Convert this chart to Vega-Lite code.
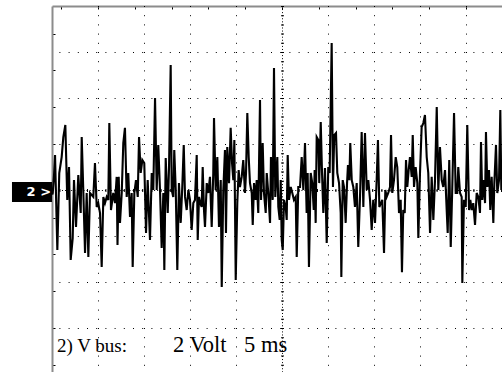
{
  "$schema": "https://vega.github.io/schema/vega-lite/v6.json",
  "width": 450,
  "height": 366,
  "autosize": "none",
  "padding": {"left": 52, "top": 6, "right": 0, "bottom": 0},
  "background": "white",
  "config": {"view": {"stroke": null}},
  "datasets": {
    "gridX": [{"t": 5}, {"t": 10}, {"t": 15}, {"t": 20}, {"t": 30}, {"t": 35}, {"t": 40}, {"t": 45}],
    "centerX": [{"t": 25}],
    "gridY": [{"v": -6}, {"v": -4}, {"v": -2}, {"v": 2}, {"v": 4}, {"v": 6}],
    "centerY": [{"v": 0}],
    "captions": [
      {"label": "2) V bus:", "t": 0.54, "size": "small"},
      {"label": "2 Volt", "t": 13.15, "size": "large"},
      {"label": "5 ms", "t": 20.87, "size": "large"}
    ],
    "wave": [
        {"t":0.02,"v":-0.2},{"t":0.08,"v":-0.13},{"t":0.22,"v":0.65},{"t":0.33,"v":1.52},{"t":0.58,"v":-2.61},{"t":0.79,"v":0.74},{"t":1.05,"v":1.43},{"t":1.23,"v":2.30},{"t":1.45,"v":2.83},{"t":1.66,"v":-0.43},{"t":1.85,"v":1.00},{"t":2.03,"v":-3.04},{"t":2.25,"v":-2.09},{"t":2.39,"v":0.43},{"t":2.61,"v":-1.61},{"t":2.86,"v":0.65},{"t":3.12,"v":-1.00},{"t":3.23,"v":2.30},{"t":3.40,"v":0},{"t":3.59,"v":-2.74},{"t":3.77,"v":-0.13},{"t":3.95,"v":-2.91},{"t":4.13,"v":-0.13},{"t":4.49,"v":-0.30},{"t":4.67,"v":1.17},{"t":4.86,"v":-0.74},{"t":5.03,"v":-0.57},{"t":5.22,"v":-1.00},{"t":5.40,"v":-3.35},{"t":5.58,"v":-0.30},{"t":5.76,"v":-0.57},{"t":5.95,"v":-0.30},{"t":6.12,"v":-0.43},{"t":6.23,"v":2.91},{"t":6.41,"v":-0.87},{"t":6.66,"v":-0.13},{"t":6.85,"v":-0.57},{"t":7.03,"v":0.57},{"t":7.12,"v":-2.39},{"t":7.25,"v":0.57},{"t":7.39,"v":-1.43},{"t":7.58,"v":-0.13},{"t":7.75,"v":2.04},{"t":7.93,"v":2.70},
        {"t":8.12,"v":-0.30},{"t":8.29,"v":0.74},{"t":8.48,"v":-1.17},{"t":8.66,"v":-0.13},{"t":8.77,"v":-3.35},{"t":8.95,"v":-0.13},{"t":9.13,"v":0.43},{"t":9.32,"v":-0.30},{"t":9.46,"v":2.30},{"t":9.64,"v":0.74},{"t":9.82,"v":1.30},{"t":10.03,"v":1.17},{"t":10.22,"v":-1.87},{"t":10.40,"v":0.43},{"t":10.65,"v":-2.17},{"t":10.84,"v":0.74},{"t":11.01,"v":0},{"t":11.20,"v":4.00},{"t":11.38,"v":0},{"t":11.55,"v":1.96},{"t":11.74,"v":0},{"t":11.92,"v":-2.52},{"t":12.10,"v":-0.13},{"t":12.21,"v":-3.48},{"t":12.36,"v":1.39},{"t":12.58,"v":-1.00},{"t":12.72,"v":1.00},{"t":12.90,"v":5.43},{"t":13.01,"v":0},{"t":13.18,"v":-0.30},{"t":13.29,"v":1.74},{"t":13.45,"v":0},{"t":13.62,"v":-3.48},{"t":13.80,"v":0.30},{"t":13.99,"v":-1.43},{"t":14.16,"v":0.13},{"t":14.32,"v":1.96},{"t":14.46,"v":-0.30},{"t":14.64,"v":-0.87},{"t":14.82,"v":0},{"t":15.00,"v":-0.43},{"t":15.18,"v":-1.74},{"t":15.36,"v":-0.57},{"t":15.54,"v":-0.43},{"t":15.73,"v":1.52},{"t":15.84,"v":-2.17},{"t":15.98,"v":-0.30},{"t":16.12,"v":-0.57},
        {"t":16.27,"v":-0.74},{"t":16.38,"v":1.00},{"t":16.52,"v":-0.87},{"t":16.63,"v":-1.61},{"t":16.82,"v":0.30},{"t":16.99,"v":-0.13},{"t":17.17,"v":0.57},{"t":17.36,"v":-1.61},{"t":17.53,"v":0.74},{"t":17.61,"v":3.13},{"t":17.79,"v":0},{"t":17.97,"v":1.43},{"t":18.15,"v":-1.61},{"t":18.34,"v":0.43},{"t":18.45,"v":-4.22},{"t":18.62,"v":0},{"t":18.80,"v":1.74},{"t":18.91,"v":-1.87},{"t":19.05,"v":1.87},{"t":19.24,"v":0.30},{"t":19.42,"v":2.70},{"t":19.57,"v":1.17},{"t":19.71,"v":0.43},{"t":19.82,"v":2.17},{"t":19.97,"v":-3.91},{"t":20.14,"v":-0.57},{"t":20.29,"v":0.87},{"t":20.43,"v":0.13},{"t":20.62,"v":0.57},{"t":20.79,"v":1.30},{"t":20.98,"v":-0.13},{"t":21.09,"v":0.74},{"t":21.23,"v":3.35},{"t":21.38,"v":1.43},{"t":21.52,"v":0.30},{"t":21.71,"v":-0.13},{"t":21.82,"v":-1.52},{"t":21.96,"v":0.30},{"t":22.14,"v":-0.43},{"t":22.25,"v":0.43},{"t":22.42,"v":-1.00},{"t":22.61,"v":3.91},{"t":22.72,"v":-0.43},{"t":22.90,"v":2.04},{"t":23.04,"v":-0.13},{"t":23.23,"v":-1.00},{"t":23.34,"v":0.74},{"t":23.51,"v":-0.13},{"t":23.70,"v":-1.43},{"t":23.80,"v":1.43},{"t":23.99,"v":-0.43},{"t":24.13,"v":5.30},{"t":24.27,"v":-0.30},
        {"t":24.49,"v":1.43},{"t":24.60,"v":-0.74},{"t":24.75,"v":-1.30},{"t":24.86,"v":0.43},{"t":24.97,"v":-2.17},{"t":25.08,"v":-2.61},{"t":25.22,"v":-0.43},{"t":25.40,"v":-0.74},{"t":25.51,"v":-1.30},{"t":25.62,"v":1.52},{"t":25.76,"v":-0.43},{"t":25.95,"v":0.13},{"t":26.12,"v":-0.13},{"t":26.30,"v":-0.43},{"t":26.49,"v":-0.30},{"t":26.60,"v":-2.91},{"t":26.77,"v":0.13},{"t":26.96,"v":0.13},{"t":27.14,"v":1.43},{"t":27.32,"v":0},{"t":27.50,"v":2.04},{"t":27.68,"v":-1.00},{"t":27.79,"v":0.74},{"t":27.93,"v":-3.35},{"t":28.12,"v":0.74},{"t":28.29,"v":0.30},{"t":28.45,"v":-0.87},{"t":28.55,"v":0.87},{"t":28.66,"v":-1.43},{"t":28.77,"v":2.30},{"t":28.95,"v":2.17},{"t":29.05,"v":0.30},{"t":29.21,"v":2.96},{"t":29.35,"v":0.74},{"t":29.49,"v":-1.00},{"t":29.67,"v":0.96},{"t":29.86,"v":-2.30},{"t":30.03,"v":1.00},{"t":30.18,"v":0.74},{"t":30.40,"v":6.39},{"t":30.54,"v":0.13},{"t":30.68,"v":2.39},{"t":30.87,"v":2.48},{"t":31.01,"v":0.74},{"t":31.20,"v":0.30},{"t":31.38,"v":-1.00},{"t":31.45,"v":-3.78},{"t":31.60,"v":0.43},{"t":31.74,"v":0.13},{"t":31.92,"v":-1.43},{"t":32.07,"v":0.30},{"t":32.17,"v":1.09},{"t":32.32,"v":0.43},{"t":32.42,"v":2.04},
        {"t":32.58,"v":0.43},{"t":32.75,"v":0.13},{"t":32.93,"v":-0.74},{"t":33.12,"v":0.30},{"t":33.29,"v":-2.48},{"t":33.48,"v":-0.30},{"t":33.66,"v":2.52},{"t":33.84,"v":-0.74},{"t":34.02,"v":2.48},{"t":34.21,"v":0},{"t":34.38,"v":0.43},{"t":34.57,"v":-0.43},{"t":34.75,"v":-1.74},{"t":34.92,"v":-0.43},{"t":35.11,"v":-1.43},{"t":35.29,"v":0.43},{"t":35.43,"v":2.17},{"t":35.58,"v":-0.74},{"t":35.76,"v":-0.57},{"t":35.90,"v":-0.43},{"t":36.09,"v":-2.74},{"t":36.23,"v":0},{"t":36.38,"v":-0.30},{"t":36.55,"v":-0.13},{"t":36.74,"v":0.13},{"t":36.85,"v":2.39},{"t":36.99,"v":-0.13},{"t":37.17,"v":0.43},{"t":37.36,"v":1.43},{"t":37.53,"v":1.00},{"t":37.72,"v":-1.00},{"t":37.90,"v":-0.43},{"t":38.04,"v":-3.57},{"t":38.18,"v":-0.87},{"t":38.34,"v":-1.00},{"t":38.48,"v":1.30},{"t":38.62,"v":0.13},{"t":38.77,"v":0.87},{"t":38.91,"v":1.43},{"t":39.10,"v":0.57},{"t":39.21,"v":2.39},{"t":39.35,"v":0.13},{"t":39.53,"v":1.00},{"t":39.71,"v":0.30},{"t":39.82,"v":-2.09},{"t":40.00,"v":0.74},{"t":40.18,"v":2.74},{"t":40.36,"v":2.91},{"t":40.54,"v":3.26},
        {"t":40.73,"v":1.43},{"t":40.90,"v":0.74},{"t":41.09,"v":-1.87},{"t":41.27,"v":0.57},{"t":41.45,"v":-1.30},{"t":41.63,"v":0.43},{"t":41.82,"v":3.61},{"t":41.99,"v":0},{"t":42.17,"v":1.87},{"t":42.36,"v":0.43},{"t":42.53,"v":0.13},{"t":42.72,"v":0.87},{"t":42.90,"v":-0.87},{"t":43.01,"v":-1.87},{"t":43.18,"v":1.30},{"t":43.34,"v":-2.48},{"t":43.51,"v":0.13},{"t":43.70,"v":3.35},{"t":43.88,"v":-0.13},{"t":44.05,"v":-0.13},{"t":44.16,"v":1.00},{"t":44.35,"v":-0.13},{"t":44.53,"v":-0.30},{"t":44.60,"v":-4.04},{"t":44.78,"v":-0.43},{"t":44.97,"v":-0.74},{"t":45.14,"v":2.83},{"t":45.33,"v":-0.87},{"t":45.47,"v":-0.43},{"t":45.62,"v":-0.87},{"t":45.79,"v":-0.57},{"t":45.98,"v":-1.52},{"t":46.16,"v":-0.13},{"t":46.34,"v":-0.30},{"t":46.52,"v":-1.00},{"t":46.63,"v":2.09},{"t":46.77,"v":-0.43},{"t":46.92,"v":0.43},{"t":47.07,"v":-0.57},{"t":47.17,"v":2.52},{"t":47.32,"v":0.13},{"t":47.50,"v":0.87},{"t":47.64,"v":-0.87},{"t":47.79,"v":0.57},{"t":47.97,"v":-1.43},{"t":48.08,"v":0.30},{"t":48.26,"v":1.96},{"t":48.40,"v":-0.13},{"t":48.59,"v":0.43},{"t":48.73,"v":3.48},{"t":48.84,"v":0},{"t":49.0,"v":0.2}
    ]
  },
  "layer": [
    {
      "data": {"name": "gridX"},
      "mark": {"type": "rule", "color": "black", "strokeWidth": 1, "strokeDash": [1, 8.2], "xOffset": 0.5},
      "encoding": {"x": {"field": "t", "type": "quantitative"}}
    },
    {
      "data": {"name": "gridY"},
      "mark": {"type": "rule", "color": "black", "strokeWidth": 1, "strokeDash": [1, 8.2], "yOffset": 0.5},
      "encoding": {"y": {"field": "v", "type": "quantitative"}}
    },
    {
      "data": {"name": "centerX"},
      "mark": {"type": "rule", "color": "black", "strokeWidth": 1, "strokeDash": [1, 2.07], "xOffset": 0.5},
      "encoding": {"x": {"field": "t", "type": "quantitative"}}
    },
    {
      "data": {"name": "centerX"},
      "mark": {"type": "rule", "color": "black", "strokeWidth": 3, "strokeDash": [1, 8.2], "xOffset": 0.5},
      "encoding": {"x": {"field": "t", "type": "quantitative"}}
    },
    {
      "data": {"name": "centerY"},
      "mark": {"type": "rule", "color": "black", "strokeWidth": 1, "strokeDash": [1, 2.07], "yOffset": 0.5},
      "encoding": {"y": {"field": "v", "type": "quantitative"}}
    },
    {
      "data": {"name": "centerY"},
      "mark": {"type": "rule", "color": "black", "strokeWidth": 3, "strokeDash": [1, 8.2], "yOffset": 0.5},
      "encoding": {"y": {"field": "v", "type": "quantitative"}}
    },
    {
      "data": {"name": "wave"},
      "mark": {"type": "line", "color": "black", "strokeWidth": 2.1, "clip": true},
      "encoding": {
        "x": {
          "field": "t", "type": "quantitative",
          "scale": {"domain": [0, 48.913], "nice": false, "zero": false},
          "axis": {
            "orient": "top", "title": null, "labels": false, "grid": false,
            "values": [1,2,3,4,5,6,7,8,9,10,11,12,13,14,15,16,17,18,19,20,21,22,23,24,25,26,27,28,29,30,31,32,33,34,35,36,37,38,39,40,41,42,43,44,45,46,47,48],
            "domainColor": "#8c8c8c", "domainWidth": 2,
            "ticks": true, "tickSize": -3, "tickColor": "black", "tickWidth": 1
          }
        },
        "y": {
          "field": "v", "type": "quantitative",
          "scale": {"domain": [-7.913, 8], "nice": false, "zero": false},
          "axis": {
            "orient": "left", "title": null, "labels": false, "grid": false,
            "values": [-7.6,-7.2,-6.8,-6.4,-6,-5.6,-5.2,-4.8,-4.4,-4,-3.6,-3.2,-2.8,-2.4,-2,-1.6,-1.2,-0.8,-0.4,0,0.4,0.8,1.2,1.6,2,2.4,2.8,3.2,3.6,4,4.4,4.8,5.2,5.6,6,6.4,6.8,7.2,7.6],
            "domainColor": "#8c8c8c", "domainWidth": 2,
            "ticks": true, "tickSize": -3, "tickColor": "black", "tickWidth": 1
          }
        }
      }
    },
    {
      "data": {"values": [{}]},
      "mark": {"type": "rect", "color": "black", "clip": false},
      "encoding": {
        "x": {"datum": -4.35, "type": "quantitative"},
        "x2": {"datum": 0},
        "y": {"datum": 0.35, "type": "quantitative"},
        "y2": {"datum": -0.52}
      }
    },
    {
      "data": {"values": [{}]},
      "mark": {"type": "text", "text": "2 >", "color": "white", "font": "DejaVu Sans", "fontWeight": "bold", "fontSize": 13, "align": "right", "baseline": "middle", "clip": false},
      "encoding": {
        "x": {"datum": -0.1, "type": "quantitative"},
        "y": {"datum": -0.09, "type": "quantitative"}
      }
    },
    {
      "data": {"name": "captions"},
      "mark": {"type": "text", "color": "black", "font": "Liberation Serif", "align": "left", "baseline": "alphabetic"},
      "encoding": {
        "x": {"field": "t", "type": "quantitative"},
        "y": {"datum": -7.04, "type": "quantitative"},
        "text": {"field": "label"},
        "size": {"field": "size", "type": "nominal", "scale": {"domain": ["small", "large"], "range": [19, 22.5]}, "legend": null}
      }
    }
  ]
}
